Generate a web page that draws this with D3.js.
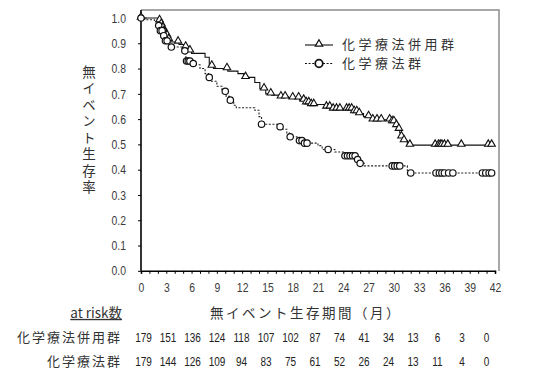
<!DOCTYPE html>
<html><head><meta charset="utf-8">
<script src="https://cdn.jsdelivr.net/npm/d3@7"></script>
<style>
body{margin:0;background:#fff;}
svg{display:block;}
.num{font-family:'Liberation Sans Narrow','Liberation Sans',Arial,sans-serif;}
.jp{font-family:'Noto Sans CJK JP','Noto Sans CJK SC',sans-serif;}
</style></head>
<body>
<script>
// ---- data ----
const seriesNames = ["化学療法併用群", "化学療法群"];
// combined therapy: step times (months) and survival after each step
const comboTimes = [0,2.1,2.3,2.5,2.7,2.9,3.2,3.5,4.5,5.1,5.5,6.0,7.6,8.1,8.6,10.3,11.5,12.2,13.5,14.1,14.8,15.5,16.5,17.5,18.8,19.5,20.0,21.9,22.8,25.3,25.8,26.4,27.4,29.7,30.2,30.5,30.7,30.9,31.2,31.6];
const comboSurv  = [1.0,0.99,0.975,0.96,0.945,0.93,0.915,0.905,0.895,0.885,0.87,0.86,0.845,0.81,0.80,0.79,0.78,0.765,0.745,0.72,0.70,0.695,0.688,0.684,0.675,0.665,0.658,0.648,0.64,0.63,0.622,0.61,0.597,0.59,0.575,0.56,0.545,0.53,0.515,0.497];
const comboMarks = [0,2.2,2.4,2.5,2.6,2.7,2.8,2.9,3.0,3.1,3.3,4.4,5.3,5.8,8.4,10.2,12.4,14.6,15.4,16.6,17.1,18.0,18.7,19.3,19.6,19.9,20.2,20.5,22.0,22.4,22.8,23.2,23.6,24.4,24.7,25.0,25.3,25.6,25.9,27.0,27.5,28.0,28.5,29.5,29.8,30.0,30.3,30.6,30.9,31.2,31.9,34.9,35.3,35.5,35.7,36.0,36.4,38.0,41.2,41.6];
// chemotherapy alone
const chemoTimes = [0,0.6,1.6,2.0,2.3,2.6,2.9,3.3,3.6,5.2,5.3,5.4,5.9,6.5,7.0,7.6,8.0,8.3,9.0,9.6,10.1,10.5,11.0,11.3,13.5,14.0,14.3,16.2,16.7,17.3,17.6,18.5,19.2,21.0,21.5,23.0,24.2,25.5,26.0,26.5,31.6];
const chemoSurv  = [1.0,0.993,0.985,0.97,0.95,0.93,0.91,0.895,0.885,0.87,0.845,0.83,0.82,0.815,0.80,0.78,0.765,0.75,0.73,0.71,0.69,0.675,0.655,0.645,0.635,0.61,0.58,0.57,0.56,0.545,0.53,0.515,0.505,0.495,0.48,0.47,0.455,0.44,0.425,0.415,0.387];
const chemoMarks = [0,2.1,2.3,2.5,2.7,2.9,3.1,3.6,5.2,5.4,5.6,5.8,6.2,8.1,10.0,10.6,14.3,16.5,17.7,18.8,19.1,19.4,19.7,22.2,24.2,24.5,24.8,25.1,25.4,25.7,26.0,29.8,30.1,30.4,30.7,32.0,35.0,35.4,35.7,36.0,36.5,37.0,40.5,40.9,41.3,41.6];
const xTicks = [0,3,6,9,12,15,18,21,24,27,30,33,36,39,42];
const yTicks = [0,0.1,0.2,0.3,0.4,0.5,0.6,0.7,0.8,0.9,1.0];
const atRiskCombo = [179,151,136,124,118,107,102,87,74,41,34,13,6,3,0];
const atRiskChemo = [179,144,126,109,94,83,75,61,52,26,24,13,11,4,0];
const yTitle = "無イベント生存率";
const xTitle = "無イベント生存期間（月）";
const atRiskTitle = "at risk数";

// ---- layout ----
const W = 533, H = 386;
const svg = d3.select("body").append("svg").attr("width", W).attr("height", H);
const x = d3.scaleLinear().domain([0, 42]).range([141, 495]);
const y = d3.scaleLinear().domain([0, 1]).range([270.8, 18]);

// condense numeric labels (narrow face look)
function narrow(sel, k) {
  sel.each(function () {
    const len = this.getComputedTextLength();
    if (len > 0) d3.select(this).attr("textLength", len * k).attr("lengthAdjust", "spacingAndGlyphs");
  });
}

// frame (gray top/right)
svg.append("path").attr("d", `M${x(0)},10H499V271`).attr("fill","none").attr("stroke","#8c8c8c").attr("stroke-width",1.5);

// y axis
const yAxis = d3.axisLeft(y).tickValues(yTicks).tickFormat(d3.format(".1f")).tickSize(3).tickPadding(12);
const gy = svg.append("g").attr("transform", `translate(${x(0)},0)`).call(yAxis);
gy.select(".domain").attr("d", `M0,10V${y(0)}`).attr("stroke","#000").attr("stroke-width",1.6);
gy.selectAll("text").attr("class","num").attr("font-size",13).attr("fill","#3a3a3a").call(narrow, 0.8);

// x axis minor + major
const xAxis = d3.axisBottom(x).tickValues(d3.range(0, 43, 1)).tickSize(3).tickFormat(d => xTicks.includes(d) ? d : "").tickPadding(9);
const gx = svg.append("g").attr("transform", `translate(0,${y(0)})`).call(xAxis);
gx.select(".domain").attr("stroke","#000").attr("stroke-width",1.6);
gx.selectAll("text").attr("class","num").attr("font-size",13).attr("fill","#3a3a3a").call(narrow, 0.8);

// step curves
function stepData(times, surv) {
  const pts = times.map((t, i) => [t, surv[i]]);
  pts.push([42, surv[surv.length - 1]]);
  return pts;
}
function survAt(times, surv, t) {
  let v = surv[0];
  for (let i = 0; i < times.length; i++) if (times[i] <= t) v = surv[i];
  return v;
}
const line = d3.line().x(d => x(d[0])).y(d => y(d[1])).curve(d3.curveStepAfter);

svg.append("path").datum(stepData(chemoTimes, chemoSurv)).attr("d", line)
  .attr("fill","none").attr("stroke","#222").attr("stroke-width",1.1).attr("stroke-dasharray","2,1.6");
svg.append("path").datum(stepData(comboTimes, comboSurv)).attr("d", line)
  .attr("fill","none").attr("stroke","#111").attr("stroke-width",1.1);

const tri = d3.symbol().type(d3.symbolTriangle).size(24);
svg.append("g").selectAll("path").data(comboMarks).join("path")
  .attr("d", tri)
  .attr("transform", t => `translate(${x(t)},${y(survAt(comboTimes, comboSurv, t)) - 1})`)
  .attr("fill","#fff").attr("stroke","#111").attr("stroke-width",1.1);
svg.append("g").selectAll("circle").data(chemoMarks).join("circle")
  .attr("cx", t => x(t)).attr("cy", t => y(survAt(chemoTimes, chemoSurv, t)))
  .attr("r", 3.2).attr("fill","#fff").attr("stroke","#111").attr("stroke-width",1.2);

// legend
const lg = svg.append("g");
lg.append("line").attr("x1",305).attr("x2",333).attr("y1",45).attr("y2",45).attr("stroke","#111").attr("stroke-width",1.1);
lg.append("path").attr("d", tri).attr("transform","translate(319,44)").attr("fill","#fff").attr("stroke","#111").attr("stroke-width",1.2);
lg.append("line").attr("x1",305).attr("x2",333).attr("y1",63.5).attr("y2",63.5).attr("stroke","#111").attr("stroke-width",1.1).attr("stroke-dasharray","2,1.6");
lg.append("circle").attr("cx",319).attr("cy",63.5).attr("r",3.8).attr("fill","#fff").attr("stroke","#111").attr("stroke-width",1.8);
lg.selectAll("text").data(seriesNames).join("text").attr("class","jp")
  .attr("x",342).attr("y",(d,i)=>44.5+i*19).attr("dy","0.36em").attr("font-size",13)
  .attr("letter-spacing",3.5).attr("fill","#333").text(d=>d);

// y title (vertical)
svg.append("text").attr("class","jp").attr("x",89).attr("y",65)
  .style("writing-mode","vertical-rl").style("text-orientation","upright")
  .attr("font-size",13.5).attr("fill","#333").attr("letter-spacing",3).text(yTitle);

// x title
svg.append("text").attr("class","jp").attr("x",210).attr("y",313).attr("dy","0.36em")
  .attr("font-size",13.5).attr("fill","#333").attr("letter-spacing",2.5).text(xTitle);

// at risk
const ar = d3.scalePoint().domain(d3.range(atRiskCombo.length)).range([143.5, 486.5]);
svg.append("text").attr("class","jp").attr("x",122).attr("y",313).attr("dy","0.36em")
  .attr("text-anchor","end").attr("font-size",13.5).attr("fill","#333")
  .attr("text-decoration","underline").text(atRiskTitle);
[atRiskCombo, atRiskChemo].forEach((arr, r) => {
  const yy = 337 + r * 24;
  svg.append("text").attr("class","jp").attr("x",122).attr("y",yy).attr("dy","0.36em")
    .attr("text-anchor","end").attr("font-size",13).attr("letter-spacing",2).attr("fill","#333").text(seriesNames[r]);
  svg.append("g").selectAll("text").data(arr).join("text").attr("class","num")
    .attr("x",(d,i)=>ar(i)).attr("y",yy).attr("dy","0.36em").attr("text-anchor","middle")
    .attr("font-size",12.5).attr("fill","#222").text(d=>d).call(narrow, 0.8);
});
</script>
</body></html>
